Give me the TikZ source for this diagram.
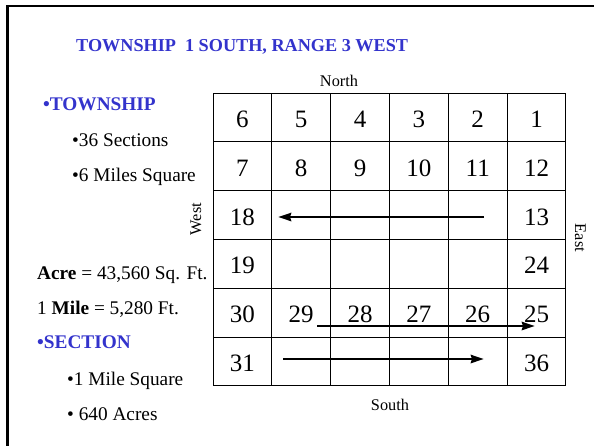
\documentclass[tikz,border=0pt]{standalone}
\usepackage{fontspec}
\setmainfont{Liberation Serif}
\usepackage{tikz}
\usetikzlibrary{arrows.meta}

\definecolor{tblue}{RGB}{51,51,204}

\begin{document}
\begin{tikzpicture}[
        x=1pt, y=-1pt,
        >={Stealth[length=13pt, width=8pt, inset=1pt]}, % Arrowhead style
        sec/.style={font=\fontsize{25}{25}\selectfont, anchor=base, inner sep=0pt},
        bodytext/.style={font=\fontsize{19.3}{22}\selectfont, anchor=base west, inner sep=0pt},
        heading/.style={bodytext, font=\fontsize{19.3}{22}\selectfont\bfseries, text=tblue},
        compass/.style={font=\fontsize{16.3}{18}\selectfont, inner sep=0pt},
        cellline/.style={line width=1pt},
        route/.style={->, line width=2.9pt}
    ]
    \useasboundingbox (0,0) rectangle (594,445);

    % ==========================================
    % 1. FRAME AND TITLE
    % ==========================================
    \draw[line width=2.6pt] (7.3,460) |- (610,6);
    \node[font=\fontsize{18.2}{20}\selectfont\bfseries, text=tblue, anchor=base west, inner sep=0pt]
        (title) at (76,51.7) {TOWNSHIP\ \ 1 SOUTH,\ RANGE 3 WEST};

    % ==========================================
    % 2. GRID OF SECTIONS
    % ==========================================
    \foreach \i in {0,...,6} {
        \draw[cellline] ({213+\i*58.83},93) -- ({213+\i*58.83},386);
        \draw[cellline] (213,{93+\i*48.83}) -- (566,{93+\i*48.83});
    }

    \foreach \c/\r/\n in {1/1/6, 2/1/5, 3/1/4, 4/1/3, 5/1/2, 6/1/1,
                          1/2/7, 2/2/8, 3/2/9, 4/2/10, 5/2/11, 6/2/12,
                          1/3/18, 6/3/13,
                          1/4/19, 6/4/24,
                          1/5/30, 2/5/29, 3/5/28, 4/5/27, 5/5/26, 6/5/25,
                          1/6/31, 6/6/36}
        \node[sec] (s\n) at ({213+(\c-0.5)*58.83},{93+(\r-0.5)*48.83+10}) {\n};

    % ==========================================
    % 3. COMPASS POINTS
    % ==========================================
    \node[compass, anchor=base] (north) at (339,86) {North};
    \node[compass, anchor=base] (south) at (390,410) {South};
    \node[compass, anchor=base, rotate=90] (west) at (201,219) {West};
    \node[compass, anchor=base, rotate=-90] (east) at (575,238) {East};

    % ==========================================
    % 4. NOTES ON THE LEFT
    % ==========================================
    \node[heading] (twp)   at (43,110) {•TOWNSHIP};
    \node[bodytext] (nsec) at (72,146) {•36 Sections};
    \node[bodytext] (msq)  at (72,181.7) {•6 Miles Square};
    \node[bodytext] (acre) at (37,279) {\textbf{Acre} = 43,560 Sq. Ft.};
    \node[bodytext] (mile) at (37,314) {1 \textbf{Mile} = 5,280 Ft.};
    \node[heading] (sect)  at (37,348) {•SECTION};
    \node[bodytext] (onem) at (67,385) {•1 Mile Square};
    \node[bodytext] (acres) at (67,420) {•\ 640 Acres};

    % ==========================================
    % 5. NUMBERING ARROWS
    % ==========================================
    \coordinate (r3from) at (484,217);
    \coordinate (r3to)   at (278,217);
    \coordinate (r5from) at (317,326);
    \coordinate (r5to)   at (535,326);
    \coordinate (r6from) at (283,359);
    \coordinate (r6to)   at (484,359);

    \draw[route] (r3from) -- (r3to);
    \draw[route] (r5from) -- (r5to);
    \draw[route] (r6from) -- (r6to);

    \end{tikzpicture}
\end{document}
